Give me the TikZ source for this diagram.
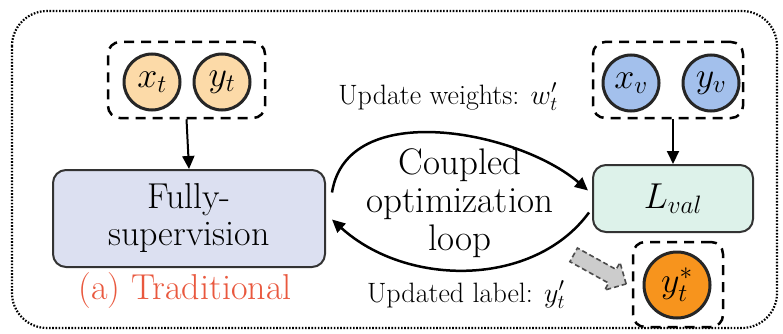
\RequirePackage{fix-cm}
\documentclass[tikz,border=0pt]{standalone}
\usepackage{fontspec}
\usetikzlibrary{arrows.meta,shapes.arrows}
\definecolor{tradred}{RGB}{233,88,62}
\definecolor{supfill}{RGB}{220,224,241}
\definecolor{valfill}{RGB}{221,242,234}
\definecolor{tfill}{RGB}{252,218,168}
\definecolor{vfill}{RGB}{163,192,236}
\definecolor{starfill}{RGB}{247,148,29}
\begin{document}
\begin{tikzpicture}[x=1pt,y=-1pt,>={Triangle[length=13pt,width=12pt]},
  var/.style={circle,draw=black!85,line width=3pt,minimum size=56pt,inner sep=0pt,font=\fontsize{36}{36}\selectfont},
  grp/.style={draw,line width=2.5pt,dash pattern=on 10pt off 7pt,rounded corners=12pt,inner sep=0pt},
  blk/.style={draw=black!80,line width=2pt,rounded corners=13pt,inner sep=0pt,align=center,font=\fontsize{36}{37}\selectfont},
  big/.style={font=\fontsize{37}{38}\selectfont,align=center},
  lbl/.style={font=\fontsize{28}{28}\selectfont}]
\useasboundingbox (0,0) rectangle (783,334);
\draw[line width=2.2pt,dash pattern=on 1.6pt off 1.6pt,rounded corners=35pt] (12,11) rectangle (777,328);
% training pair
\node[grp,minimum width=157pt,minimum height=76pt] (tbox) at (186.5,80) {};
\node[var,fill=tfill] (xt) at (152,82) {$x_t$};
\node[var,fill=tfill] (yt) at (222,82) {$y_t$};
\node[blk,fill=supfill,minimum width=272pt,minimum height=97pt] (fully) at (189,218.5) {Fully-\\supervision};
\draw[->,line width=2pt] (tbox.south) -- (fully.north);
\node[font=\fontsize{36}{36}\selectfont,text=tradred] (trad) at (185,291) {(a) Traditional};
% validation pair
\node[grp,minimum width=150pt,minimum height=76pt] (vbox) at (668,80) {};
\node[var,fill=vfill] (xv) at (631,83) {$x_v$};
\node[var,fill=vfill] (yv) at (711,83) {$y_v$};
\node[blk,fill=valfill,minimum width=160pt,minimum height=67pt] (lval) at (673,198.5) {$L_{val}$};
\draw[->,line width=2pt] (vbox.south -| lval.north) -- (lval.north);
% loop
\node[big] (loop) at (460,203) {Coupled\\optimization\\loop};
\draw[->,line width=2.5pt] ([xshift=6pt,yshift=26pt]fully.east) .. controls +(15,-95) and +(-70,-60) .. ([xshift=-4pt,yshift=8pt]lval.west);
\draw[->,line width=2.5pt] ([xshift=-3pt,yshift=-14pt]lval.west) .. controls +(-55,75) and +(75,68) .. ([xshift=6pt,yshift=-1pt]fully.east);
\node[lbl] (upw) at (448,97) {Update weights: $w'_t$};
\node[lbl] (upl) at (466,295) {Updated label: $y'_t$};
% refined label
\node[grp,minimum width=90pt,minimum height=85pt] (starbox) at (678,284.5) {};
\node[var,fill=starfill,minimum size=66pt] (ystar) at (677,285) {$y_t^*$};
\node[single arrow,draw=black!70,fill=black!20,line width=1.6pt,dash pattern=on 5pt off 3pt,inner xsep=0pt,inner ysep=7pt,single arrow head extend=8pt,minimum height=60pt,rotate=-29] (hint) at (596.5,267.5) {};
\end{tikzpicture}
\end{document}
